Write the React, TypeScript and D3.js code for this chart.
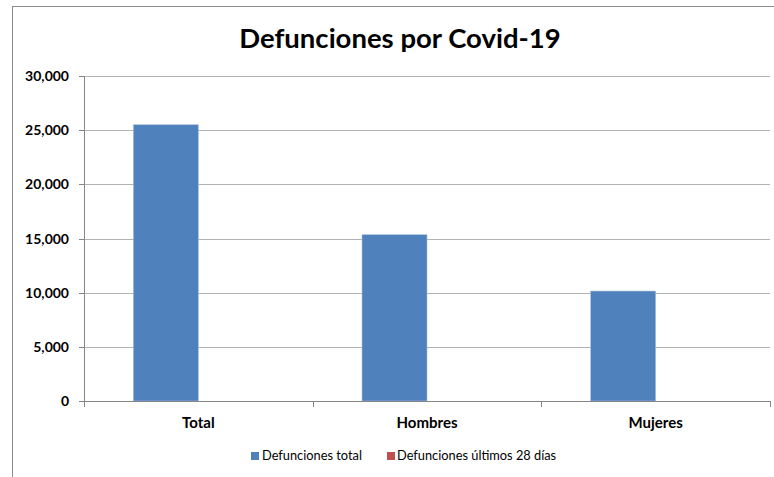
import React from "react";
import * as d3 from "d3";

const categories = ["Total", "Hombres", "Mujeres"];
const seriesNames = ["Defunciones total", "Defunciones últimos 28 días"];
const totalDeaths = [25500, 15350, 10150];
const last28Deaths = [0, 0, 0];
const yTicks = [0, 5000, 10000, 15000, 20000, 25000, 30000];
const titleText = "Defunciones por Covid-19";

const W = 774;
const H = 477;
const M = { left: 84, right: 770, top: 76, bottom: 401 };
const colors = ["#4f81bd", "#c0504d"];
const FONT = "Lato, 'Open Sans', sans-serif";

export default function App() {
  const x = d3.scaleBand<string>().domain(categories).range([M.left, M.right]).padding(0);
  const xs = d3
    .scaleBand<string>()
    .domain(seriesNames)
    .range([0, x.bandwidth()])
    .paddingInner(0)
    .paddingOuter(0.759);
  const y = d3.scaleLinear().domain([0, 30000]).range([M.bottom, M.top]);
  const fmt = d3.format(",");
  const series = [totalDeaths, last28Deaths];
  const boundaries = [...categories.map((c) => x(c) as number), M.right];

  return (
    <svg
      width={W}
      height={H}
      style={{ position: "absolute", left: 0, top: 0, background: "#fff" }}
    >
      <rect x={12.5} y={6.5} width={900} height={600} fill="#fff" stroke="#8c8c8c" strokeWidth={1} />
      <text
        x={400}
        y={48}
        textAnchor="middle"
        fontFamily={FONT}
        fontWeight={700}
        fontSize={27.5}
        fill="#000"
      >
        {titleText}
      </text>
      {yTicks.map((t) => (
        <g key={t}>
          {t > 0 && (
            <line
              x1={M.left}
              x2={M.right}
              y1={Math.round(y(t)) + 0.5}
              y2={Math.round(y(t)) + 0.5}
              stroke="#b3b3b3"
              strokeWidth={1}
            />
          )}
          <line
            x1={M.left - 5}
            x2={M.left}
            y1={Math.round(y(t)) + 0.5}
            y2={Math.round(y(t)) + 0.5}
            stroke="#868686"
          />
          <text
            x={69}
            y={y(t) + 5}
            textAnchor="end"
            fontFamily={FONT}
            fontWeight={700}
            fontSize={14}
            fill="#000"
          >
            {fmt(t)}
          </text>
        </g>
      ))}
      {series.map((vals, si) =>
        categories.map((c, ci) => {
          const bx = (x(c) as number) + (xs(seriesNames[si]) as number);
          const by = y(vals[ci]);
          const h = M.bottom - by;
          return h > 0 ? (
            <rect
              key={`${si}-${c}`}
              x={bx}
              y={by}
              width={xs.bandwidth()}
              height={h}
              fill={colors[si]}
              stroke="#a7bfde"
              strokeWidth={0.6}
            />
          ) : null;
        })
      )}
      <line x1={M.left + 0.5} x2={M.left + 0.5} y1={M.top} y2={M.bottom} stroke="#868686" />
      <line x1={M.left} x2={M.right} y1={M.bottom + 0.5} y2={M.bottom + 0.5} stroke="#868686" />
      {boundaries.map((b, i) => (
        <line
          key={i}
          x1={Math.round(b) + 0.5}
          x2={Math.round(b) + 0.5}
          y1={M.bottom}
          y2={M.bottom + 6}
          stroke="#868686"
        />
      ))}
      {categories.map((c) => (
        <text
          key={c}
          x={(x(c) as number) + x.bandwidth() / 2}
          y={428}
          textAnchor="middle"
          fontFamily={FONT}
          fontWeight={700}
          fontSize={15}
          fill="#000"
        >
          {c}
        </text>
      ))}
      <g>
        <rect x={251} y={452} width={8} height={8} fill={colors[0]} />
        <text x={262} y={460} fontFamily={FONT} fontSize={12.8} fill="#000">
          {seriesNames[0]}
        </text>
        <rect x={387} y={452} width={8} height={8} fill={colors[1]} />
        <text x={397} y={460} fontFamily={FONT} fontSize={12.8} fill="#000">
          {seriesNames[1]}
        </text>
      </g>
    </svg>
  );
}
